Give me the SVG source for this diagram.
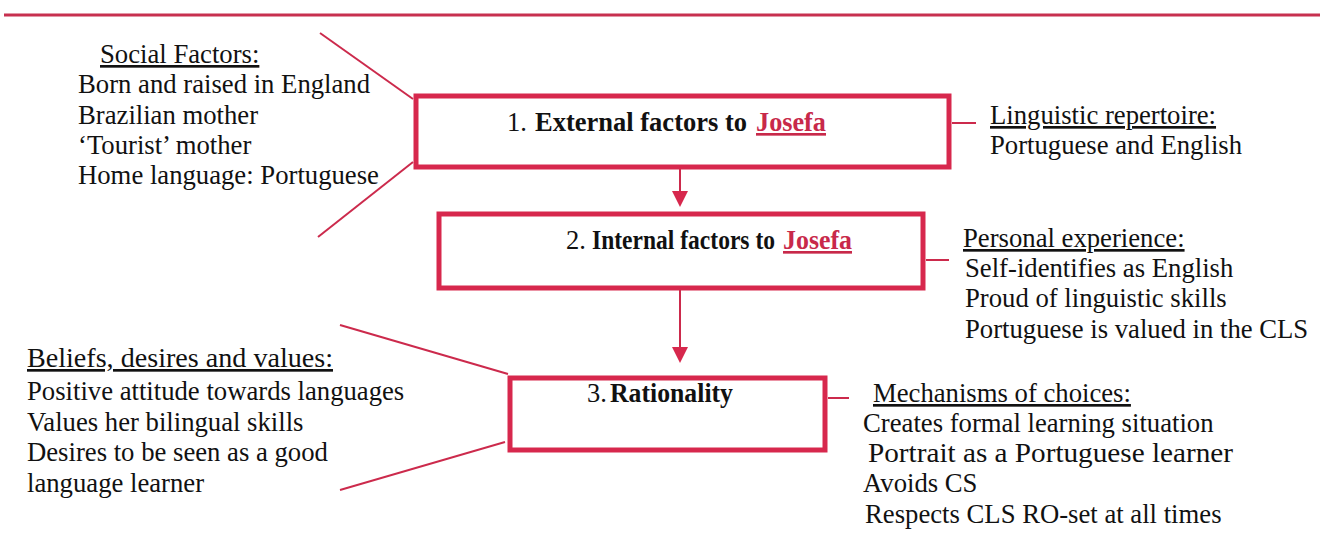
<svg xmlns="http://www.w3.org/2000/svg" width="1322" height="558" viewBox="0 0 1322 558">
  <style>
    .box { fill: #fff; stroke: #d7284d; stroke-width: 5; }
    .ln { stroke: #cc2a4c; stroke-width: 2; fill: none; }
    .head { fill: #d7284d; }
  </style>

  <rect width="1322" height="558" fill="#fff"/>

  <!-- page rule -->
  <line x1="4" y1="15" x2="1320" y2="15" stroke="#c7304f" stroke-width="3"/>

  <!-- connectors -->
  <g id="connectors">
    <line class="ln" x1="320" y1="33" x2="413" y2="99"/>
    <line class="ln" x1="318" y1="237" x2="413" y2="162"/>
    <line class="ln" x1="340" y1="325" x2="508" y2="374"/>
    <line class="ln" x1="340" y1="490" x2="505" y2="442"/>
    <line class="ln" x1="952" y1="123" x2="976" y2="123"/>
    <line class="ln" x1="926" y1="260" x2="949" y2="260"/>
    <line class="ln" x1="828" y1="398" x2="849" y2="398"/>
    <line class="ln" x1="680" y1="168" x2="680" y2="196"/>
    <path class="head" d="M672,191 L688,191 L680,207 Z"/>
    <line class="ln" x1="680" y1="289" x2="680" y2="350"/>
    <path class="head" d="M672,347 L688,347 L680,363 Z"/>
  </g>

  <!-- node 1 -->
  <g id="external" font-family="Liberation Serif" font-size="26.5" fill="#111">
    <rect class="box" x="416" y="96" width="533" height="71"/>
    <text x="507" y="131">1.</text>
    <text x="535" y="131" font-weight="bold" textLength="212" lengthAdjust="spacingAndGlyphs">External factors to</text>
    <text x="756" y="131" font-weight="bold" fill="#c8294a" text-decoration="underline" textLength="70" lengthAdjust="spacingAndGlyphs">Josefa</text>
  </g>

  <!-- node 2 -->
  <g id="internal" font-family="Liberation Serif" font-size="26.5" fill="#111">
    <rect class="box" x="439" y="214" width="484" height="74"/>
    <text x="566" y="249">2.</text>
    <text x="592" y="249" font-weight="bold" textLength="183" lengthAdjust="spacingAndGlyphs">Internal factors to</text>
    <text x="783" y="249" font-weight="bold" fill="#c8294a" text-decoration="underline" textLength="69" lengthAdjust="spacingAndGlyphs">Josefa</text>
  </g>

  <!-- node 3 -->
  <g id="rationality" font-family="Liberation Serif" font-size="26.5" fill="#111">
    <rect class="box" x="510" y="378" width="315" height="72"/>
    <text x="587" y="402">3.</text>
    <text x="610" y="402" font-weight="bold" textLength="123" lengthAdjust="spacingAndGlyphs">Rationality</text>
  </g>

  <!-- social factors -->
  <g id="social" font-family="Liberation Serif" font-size="26.7" fill="#111">
    <text x="100" y="63" text-decoration="underline">Social Factors:</text>
    <text x="78" y="93">Born and raised in England</text>
    <text x="78" y="124">Brazilian mother</text>
    <text x="78" y="154">‘Tourist’ mother</text>
    <text x="78" y="184">Home language: Portuguese</text>
  </g>

  <!-- linguistic repertoire -->
  <g id="repertoire" font-family="Liberation Serif" font-size="26.7" fill="#111">
    <text x="990" y="124" text-decoration="underline">Linguistic repertoire:</text>
    <text x="990" y="154">Portuguese and English</text>
  </g>

  <!-- personal experience -->
  <g id="experience" font-family="Liberation Serif" font-size="26.7" fill="#111">
    <text x="963" y="247" text-decoration="underline">Personal experience:</text>
    <text x="965" y="277">Self-identifies as English</text>
    <text x="965" y="307">Proud of linguistic skills</text>
    <text x="965" y="338">Portuguese is valued in the CLS</text>
  </g>

  <!-- beliefs -->
  <g id="beliefs" font-family="Liberation Serif" font-size="26.7" fill="#111">
    <text x="27" y="367" text-decoration="underline" textLength="306" lengthAdjust="spacingAndGlyphs">Beliefs, desires and values:</text>
    <text x="27" y="400">Positive attitude towards languages</text>
    <text x="27" y="431">Values her bilingual skills</text>
    <text x="27" y="461">Desires to be seen as a good</text>
    <text x="27" y="492">language learner</text>
  </g>

  <!-- mechanisms -->
  <g id="mechanisms" font-family="Liberation Serif" font-size="26.7" fill="#111">
    <text x="873" y="402" text-decoration="underline">Mechanisms of choices:</text>
    <text x="863" y="432">Creates formal learning situation</text>
    <text x="868" y="462" textLength="365" lengthAdjust="spacingAndGlyphs">Portrait as a Portuguese learner</text>
    <text x="863" y="492">Avoids CS</text>
    <text x="865" y="523">Respects CLS RO-set at all times</text>
  </g>
</svg>
